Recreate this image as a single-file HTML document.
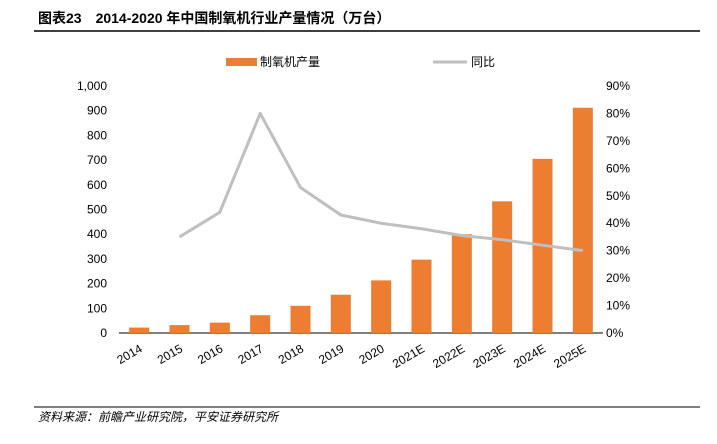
<!DOCTYPE html>
<html><head><meta charset="utf-8"><style>
body{margin:0;background:#fff;font-family:"Liberation Sans","Noto Sans CJK SC",sans-serif;}
svg text{font-family:"Liberation Sans","Noto Sans CJK SC",sans-serif;}
</style></head><body>
<svg width="717" height="439" viewBox="0 0 717 439">
<text x="38" y="23" font-size="14" font-weight="bold" fill="#000">图表23　2014-2020 年中国制氧机行业产量情况（万台）</text>
<line x1="34" y1="31" x2="700" y2="31" stroke="#000" stroke-width="1.5"/>
<g>
<rect x="226" y="58" width="31" height="8" fill="#ED7D31"/>
<text x="260" y="66" font-size="12">制氧机产量</text>
<line x1="433" y1="62" x2="467" y2="62" stroke="#BFBFBF" stroke-width="3"/>
<text x="471" y="66" font-size="12">同比</text>
</g>
<g id="plot"></g>
<line x1="34" y1="407" x2="700" y2="407" stroke="#000" stroke-width="1"/>
<text x="38" y="421" font-size="12" font-style="italic">资料来源：前瞻产业研究院，平安证券研究所</text>
</svg>
<script>
const categories=["2014","2015","2016","2017","2018","2019","2020","2021E","2022E","2023E","2024E","2025E"];
const production=[22,32,42,72,110,155,213,297,400,533,705,912];
const growth=[null,35,44,80,53,43,40,38,35.5,34,32,30];
const leftTicks=[0,100,200,300,400,500,600,700,800,900,1000];
const rightTicks=[0,10,20,30,40,50,60,70,80,90];
const NS="http://www.w3.org/2000/svg";
const g=document.getElementById('plot');
const X0=119,X1=603,Y0=333,Y1=86;
const band=(X1-X0)/categories.length;
const xc=i=>X0+band*(i+0.5);
const yL=v=>Y0-(v/1000)*(Y0-Y1);
const yR=v=>Y0-(v/90)*(Y0-Y1);
function mk(t,a){const e=document.createElementNS(NS,t);for(const k in a)e.setAttribute(k,a[k]);g.appendChild(e);return e;}
leftTicks.forEach(v=>{const t=mk('text',{x:X0-12,y:yL(v)+4,'font-size':12,'text-anchor':'end'});t.textContent=v.toLocaleString('en-US');

});
rightTicks.forEach(v=>{const t=mk('text',{x:X1+3,y:yR(v)+4,'font-size':12});t.textContent=v+'%';

});
const ax=mk('line',{x1:X0,y1:Y0,x2:X1,y2:Y0,stroke:'#000'});


production.forEach((v,i)=>{const r=mk('rect',{x:xc(i)-10,y:yL(v),width:20,height:Y0-yL(v),fill:'#ED7D31'});


const t=mk('text',{x:xc(i)+4,y:Y0+18,'font-size':12,'text-anchor':'end',transform:`rotate(-30 ${xc(i)+4} ${Y0+18})`});t.textContent=categories[i];

});
let d='';growth.forEach((v,i)=>{if(v==null)return;d+=(d?'L':'M')+xc(i)+','+yR(v);});
const p=mk('path',{d:d,fill:'none',stroke:'#BFBFBF','stroke-width':3,'stroke-linejoin':'round'});


</script>
</body></html>
